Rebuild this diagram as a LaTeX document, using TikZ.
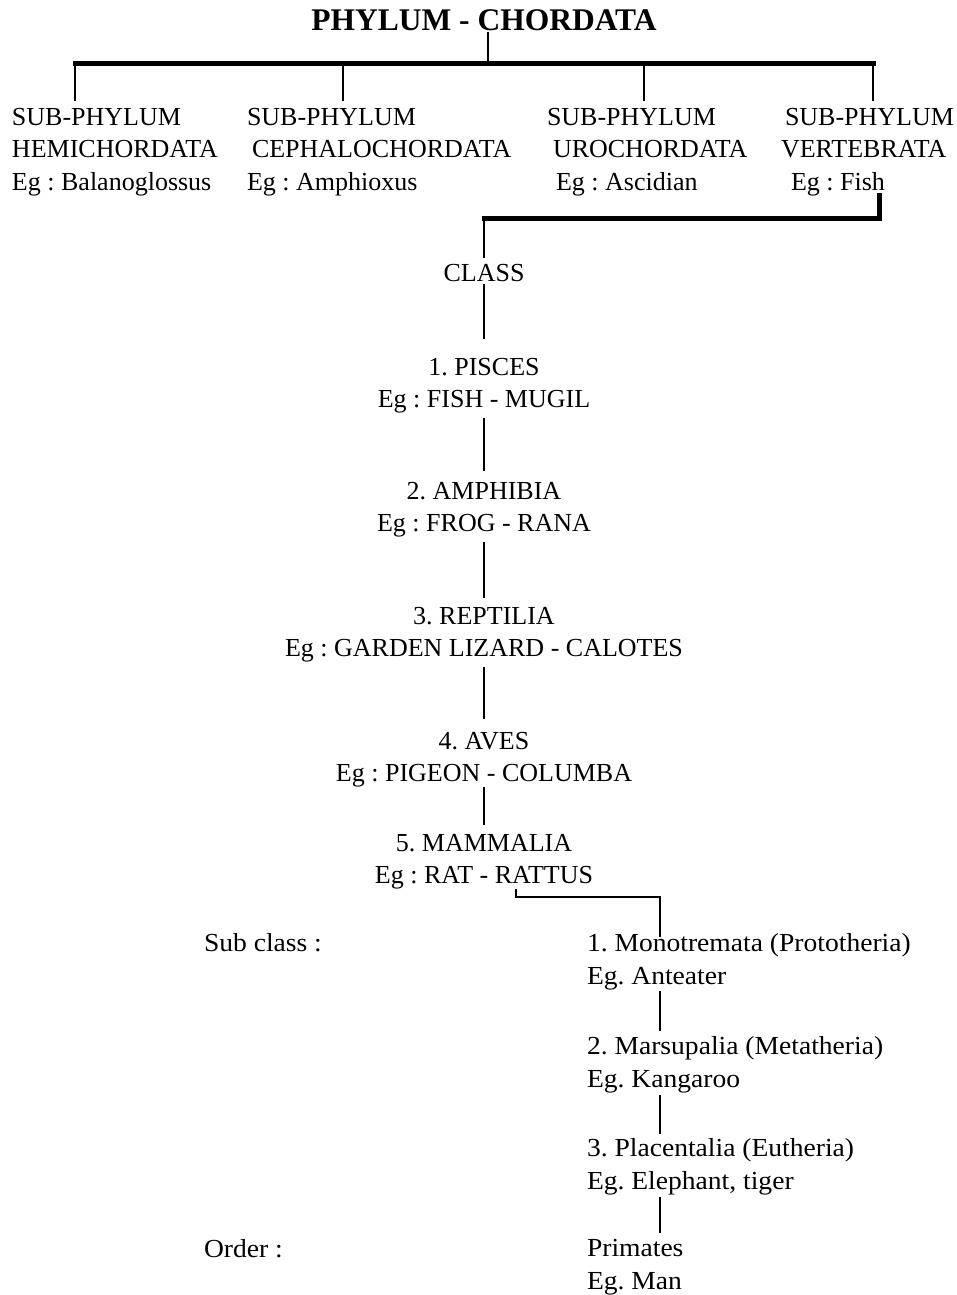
\documentclass[tikz,border=0pt]{standalone}
\usepackage{fontspec}
\setmainfont{Liberation Serif}
\newfontfamily\widefont[FakeStretch=1.06]{Liberation Serif}
\begin{document}
\frenchspacing
\begin{tikzpicture}[x=1pt,y=-1pt,
  every node/.style={inner sep=0pt, outer sep=0pt, font=\fontsize{26}{32.5}\selectfont},
  thinline/.style={line width=2pt},
  thickline/.style={line width=5pt},
  midline/.style={line width=2.5pt},
  ctext/.style={align=center, anchor=north},
  ltext/.style={align=left, anchor=north west},
  wtext/.style={align=left, anchor=north west, font=\widefont\fontsize{26}{32.5}\selectfont}]
\useasboundingbox (0,0) rectangle (956,1295);
\fill[white] (0,0) rectangle (956,1295);
% title
\node[font=\bfseries\fontsize{31.5}{36}\selectfont, anchor=north] (title) at (484,10) {PHYLUM - CHORDATA};
% sub-phyla
\node[ltext] (sp1) at (12,108) {SUB-PHYLUM\\HEMICHORDATA\\Eg : Balanoglossus};
\node[ltext] (sp2) at (247,108) {SUB-PHYLUM\\\hspace*{5pt}CEPHALOCHORDATA\\Eg : Amphioxus};
\node[ltext] (sp3) at (547,108) {SUB-PHYLUM\\\hspace*{6pt}UROCHORDATA\\\hspace*{9pt}Eg : Ascidian};
\node[ltext] (sp4) at (781,108) {\hspace*{4pt}SUB-PHYLUM\\VERTEBRATA\\\hspace*{10pt}Eg : Fish};
% classes
\node[ctext] (class) at (484,264) {CLASS};
\node[ctext] (pisces) at (484,358) {1. PISCES\\Eg : FISH - MUGIL};
\node[ctext] (amph) at (484,482) {2. AMPHIBIA\\Eg : FROG - RANA};
\node[ctext] (rept) at (484,607) {3. REPTILIA\\Eg : GARDEN LIZARD - CALOTES};
\node[ctext] (aves) at (484,732) {4. AVES\\Eg : PIGEON - COLUMBA};
\node[ctext] (mamm) at (484,834) {5. MAMMALIA\\Eg : RAT - RATTUS};
% sub classes
\node[wtext] (subclass) at (204,933.5) {Sub class :};
\node[wtext] (mono) at (587,933.5) {1. Monotremata (Prototheria)\\Eg. Anteater};
\node[wtext] (marsu) at (587,1036.5) {2. Marsupalia (Metatheria)\\Eg. Kangaroo};
\node[wtext] (plac) at (587,1138.5) {3. Placentalia (Eutheria)\\Eg. Elephant, tiger};
\node[wtext] (order) at (204,1239.5) {Order :};
\node[wtext] (prim) at (587,1239.5) {Primates\\Eg. Man};
% junction coordinates
\coordinate (tj) at (488,64);
\coordinate (d1) at (75,64);
\coordinate (d2) at (343,64);
\coordinate (d3) at (644,64);
\coordinate (d4) at (873,64);
\coordinate (fj) at (879,218.5);
\coordinate (mk) at (516,897);
\coordinate (mj) at (660,897);
\coordinate (sx) at (660,0);
% phylum connectors
\draw[thinline, shorten <=1pt] (tj |- title.south) -- (tj);
\draw[thickline, line cap=rect] (d1) -- (d4);
\foreach \d/\s in {d1/sp1, d2/sp2, d3/sp3, d4/sp4}
  \draw[thinline, shorten >=7pt] (\d) -- (\d |- \s.north);
% vertebrata to class
\draw[thickline, line cap=rect] (fj |- sp4.south) -- (fj) -- (fj -| class.north);
\draw[thinline, shorten >=6pt] (fj -| class.north) -- (class.north);
% class chain
\draw[thinline, shorten <=3pt, shorten >=19pt] (class.south) -- (pisces.north);
\draw[thinline, shorten <=4.5pt, shorten >=11pt] (pisces.south) -- (amph.north);
\draw[thinline, shorten <=5pt, shorten >=9pt] (amph.south) -- (rept.north);
\draw[thinline, shorten <=5pt, shorten >=13pt] (rept.south) -- (aves.north);
\draw[thinline, shorten <=0pt, shorten >=9pt] (aves.south) -- (mamm.north);
% mammalia to sub classes
\draw[midline] (mk |- mamm.south) -- (mk) -- (mj) -- ([yshift=-3pt]mj |- mono.north);
\draw[thinline, shorten <=1pt, shorten >=6pt] (sx |- mono.south) -- (sx |- marsu.north);
\draw[thinline, shorten <=2pt, shorten >=5pt] (sx |- marsu.south) -- (sx |- plac.north);
\draw[thinline, shorten <=2pt, shorten >=7pt] (sx |- plac.south) -- (sx |- prim.north);
\end{tikzpicture}
\end{document}
